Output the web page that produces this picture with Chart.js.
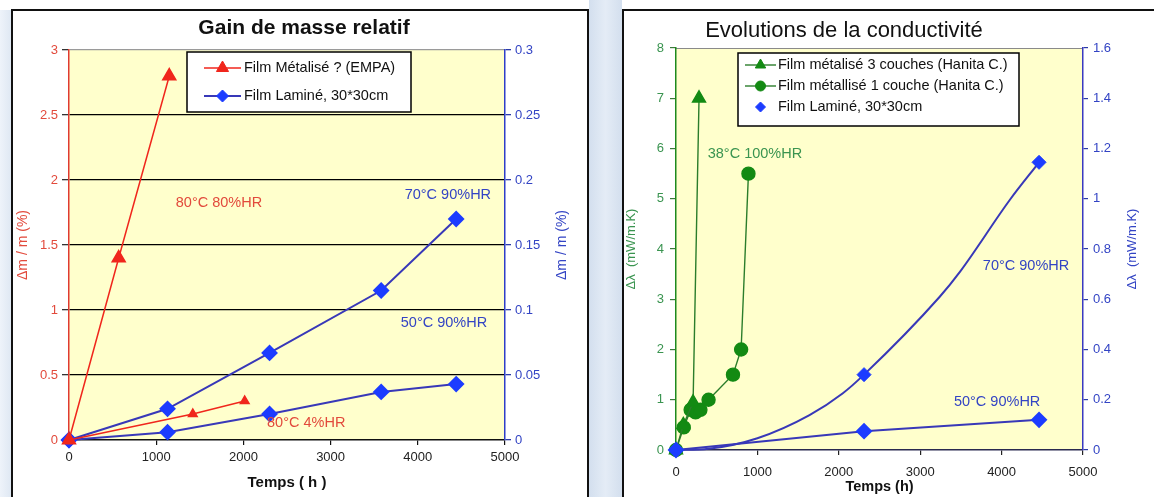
<!DOCTYPE html>
<html><head><meta charset="utf-8">
<script src="https://cdn.jsdelivr.net/npm/chart.js@4.4.0/dist/chart.umd.min.js"></script>
<style>
html,body{margin:0;padding:0;width:1154px;height:497px;overflow:hidden;background:#fff;}
#stripL{position:absolute;left:0;top:10px;width:11px;height:487px;background:linear-gradient(90deg,#eef3fa,#dfe8f3);}
#stripM{position:absolute;left:589px;top:0;width:33px;height:497px;background:linear-gradient(90deg,#d3dfee,#e4ecf6,#d3dfee);}
#frameL{position:absolute;left:11px;top:9px;width:574px;height:500px;border:2px solid #111;border-bottom:none;background:#fff;}
#frameR{position:absolute;left:622px;top:9px;width:560px;height:500px;border:2px solid #111;border-bottom:none;border-right:none;background:#fff;}
canvas{position:absolute;}
#cL{left:13px;top:11px;}
#cR{left:624px;top:11px;}
</style>
</head><body>
<div id="stripL"></div><div id="stripM"></div>
<div id="frameL"></div><div id="frameR"></div>
<canvas id="cL" width="574" height="486"></canvas>
<canvas id="cR" width="530" height="486"></canvas>
<script>
// ---------- shared ticks ----------
const xTicks = [0, 1000, 2000, 3000, 4000, 5000];
const massLeftTicks = [0, 0.5, 1, 1.5, 2, 2.5, 3];
const massRightTicks = [0, 0.05, 0.1, 0.15, 0.2, 0.25, 0.3];
const condLeftTicks = [0, 1, 2, 3, 4, 5, 6, 7, 8];
const condRightTicks = [0, 0.2, 0.4, 0.6, 0.8, 1, 1.2, 1.4, 1.6];

// ---------- Gain de masse relatif ----------
const massTitle = 'Gain de masse relatif';
const massXTitle = 'Temps ( h )';
const massYTitle = 'Δm / m (%)';
const massLegendLabels = ['Film Métalisé ? (EMPA)', 'Film Laminé, 30*30cm'];
const empa80Time = [0, 570, 1150];
const empa80Gain = [0, 1.4, 2.8];
const empa4Time = [0, 1420, 2015];
const empa4Gain = [0, 0.2, 0.3];
const lam70Time = [0, 1130, 2300, 3580, 4440];
const lam70Gain = [0, 0.024, 0.067, 0.115, 0.17];
const lam50Time = [0, 1130, 2300, 3580, 4440];
const lam50Gain = [0, 0.006, 0.02, 0.037, 0.043];
const massNoteText = ['80°C 80%HR', '70°C 90%HR', '50°C 90%HR', '80°C 4%HR'];
const massNoteTime = [1720, 4345, 4300, 2720];
const massNoteValue = [1.82, 1.885, 0.9, 0.131]; // in left-axis units

// ---------- Evolutions de la conductivité ----------
const condTitle = 'Evolutions de la conductivité';
const condXTitle = 'Temps (h)';
const condYLeftTitle = 'Δλ  (mW/m.K)';
const condYRightTitle = 'Δλ  (mW/m.K)';
const condLegendLabels = ['Film métalisé 3 couches (Hanita C.)', 'Film métallisé 1 couche (Hanita C.)', 'Film Laminé, 30*30cm'];
const hanita3Time = [0, 90, 210, 283];
const hanita3Cond = [0, 0.5, 0.95, 7.0];
const hanita1Time = [0, 95, 180, 240, 300, 400, 700, 800, 890];
const hanita1Cond = [0, 0.45, 0.8, 0.75, 0.8, 1.0, 1.5, 2.0, 5.5];
const lamC70Time = [0, 2310, 4460];
const lamC70Cond = [0, 0.3, 1.145];
const lamC70CurveTime = [0, 400, 1000, 1640, 2050, 2310, 3240, 3490, 4100, 4460];
const lamC70CurveCond = [0, 0.005, 0.047, 0.139, 0.226, 0.3, 0.61, 0.71, 0.995, 1.145];
const lamC50Time = [0, 2310, 4460];
const lamC50Cond = [0, 0.075, 0.12];
const condNoteText = ['38°C 100%HR', '70°C 90%HR', '50°C 90%HR'];
const condNoteTime = [970, 4300, 3945];
const condNoteValue = [5.89, 3.66, 0.955]; // in left-axis units

// ---------- styling ----------
const FONT = "'Liberation Sans', Arial, Helvetica, sans-serif";
const RED = '#f0261c', RED_TXT = '#e24a3c';
const BLUE = '#1c3cff', BLUE_LINE = '#3838b8', BLUE_TXT = '#3344c4';
const GREEN = '#138a13', GREEN_LINE = '#2b7d2b', GREEN_TXT = '#3a9450';

const pts = (xs, ys) => xs.map((x, i) => ({x: x, y: ys[i]}));

function marker(ctx, style, r, x, y) {
  ctx.beginPath();
  if (style === 'circle') {
    ctx.arc(x, y, r, 0, Math.PI * 2);
  } else if (style === 'triangle') {
    ctx.moveTo(x, y - r);
    ctx.lineTo(x + 0.866 * r, y + 0.5 * r);
    ctx.lineTo(x - 0.866 * r, y + 0.5 * r);
    ctx.closePath();
  } else {
    ctx.moveTo(x, y - r); ctx.lineTo(x + r, y); ctx.lineTo(x, y + r); ctx.lineTo(x - r, y); ctx.closePath();
  }
  ctx.fill(); ctx.stroke();
}

const bgPlugin = (color, topLine) => ({
  id: 'plotBg',
  beforeDraw(chart) {
    const {ctx, chartArea: a} = chart;
    ctx.save();
    ctx.fillStyle = color;
    ctx.fillRect(a.left, a.top, a.right - a.left, a.bottom - a.top);
    if (topLine) {
      ctx.strokeStyle = topLine; ctx.lineWidth = 1;
      ctx.beginPath(); ctx.moveTo(a.left, a.top + 0.5); ctx.lineTo(a.right, a.top + 0.5); ctx.stroke();
    }
    ctx.restore();
  }
});

function extrasPlugin(cfg) {
  return {
    id: 'extras',
    afterDatasetsDraw(chart) {
      const ctx = chart.ctx, a = chart.chartArea;
      const xs = chart.scales.x, yl = chart.scales.yL;
      ctx.save();
      // chart title
      ctx.textAlign = 'center'; ctx.textBaseline = 'middle';
      ctx.fillStyle = '#111';
      ctx.font = cfg.title.weight + ' ' + cfg.title.size + 'px ' + FONT;
      ctx.fillText(cfg.title.text, cfg.title.x, cfg.title.y);
      // annotations
      ctx.font = cfg.noteSize + 'px ' + FONT;
      cfg.notes.text.forEach((t, i) => {
        ctx.fillStyle = cfg.notes.colors[i];
        ctx.fillText(t, xs.getPixelForValue(cfg.notes.time[i]), yl.getPixelForValue(cfg.notes.value[i]));
      });
      // right axis title (reads bottom to top)
      ctx.save();
      ctx.translate(a.right + cfg.rTitle.dx, (a.top + a.bottom) / 2 + cfg.rTitle.dy);
      ctx.rotate(-Math.PI / 2);
      ctx.fillStyle = cfg.rTitle.color;
      ctx.font = cfg.rTitle.size + 'px ' + FONT;
      ctx.fillText(cfg.rTitle.text, 0, 0);
      ctx.restore();
      // legend
      const L = cfg.legend;
      ctx.fillStyle = '#fff'; ctx.fillRect(L.x, L.y, L.w, L.h);
      ctx.strokeStyle = '#000'; ctx.lineWidth = 1.5; ctx.strokeRect(L.x, L.y, L.w, L.h);
      ctx.font = L.size + 'px ' + FONT; ctx.textAlign = 'left'; ctx.textBaseline = 'middle';
      L.rows.forEach((r, i) => {
        const y = L.firstY + i * L.gap;
        if (r.line) {
          ctx.strokeStyle = r.lineColor; ctx.lineWidth = r.lineWidth;
          ctx.beginPath(); ctx.moveTo(L.sx1, y); ctx.lineTo(L.sx2, y); ctx.stroke();
        }
        ctx.fillStyle = r.color; ctx.strokeStyle = r.color; ctx.lineWidth = 1;
        marker(ctx, r.style, r.r, (L.sx1 + L.sx2) / 2, y);
        ctx.fillStyle = '#111';
        ctx.fillText(L.labels[i], L.tx, y);
      });
      ctx.restore();
    }
  };
}

const fixedTicks = arr => (s => { s.ticks = arr.map(v => ({value: v})); });

// ================= LEFT CHART =================
new Chart(document.getElementById('cL'), {
  type: 'scatter',
  data: {datasets: [
    {label: massLegendLabels[0], data: pts(empa80Time, empa80Gain), yAxisID: 'yL', showLine: true,
     borderColor: RED, borderWidth: 1.5, pointStyle: 'triangle', pointRadius: 7.5,
     pointBackgroundColor: RED, pointBorderColor: RED, clip: false},
    {label: '', data: pts(empa4Time, empa4Gain), yAxisID: 'yL', showLine: true,
     borderColor: RED, borderWidth: 1.5, pointStyle: 'triangle', pointRadius: 5,
     pointBackgroundColor: RED, pointBorderColor: RED, clip: false},
    {label: massLegendLabels[1], data: pts(lam70Time, lam70Gain), yAxisID: 'yR', showLine: true,
     borderColor: BLUE_LINE, borderWidth: 2, pointStyle: 'rectRot', pointRadius: 7,
     pointBackgroundColor: BLUE, pointBorderColor: BLUE, clip: false},
    {label: '', data: pts(lam50Time, lam50Gain), yAxisID: 'yR', showLine: true,
     borderColor: BLUE_LINE, borderWidth: 2, pointStyle: 'rectRot', pointRadius: 7,
     pointBackgroundColor: BLUE, pointBorderColor: BLUE, clip: false}
  ]},
  options: {
    responsive: false, animation: false, events: [],
    layout: {padding: {top: 39, left: 0, right: 0, bottom: 0}},
    plugins: {legend: {display: false}, tooltip: {enabled: false}, title: {display: false}},
    scales: {
      x: {type: 'linear', position: 'bottom', min: 0, max: 5000,
          afterFit: s => { s.height = 57; }, afterBuildTicks: fixedTicks(xTicks),
          ticks: {color: '#222', font: {family: FONT, size: 13}, padding: 5, autoSkip: false, maxRotation: 0, callback: v => String(v)},
          grid: {drawOnChartArea: false, tickLength: 5, tickColor: '#111', lineWidth: 1.2},
          border: {color: '#111', width: 1.5},
          title: {display: true, text: massXTitle, color: '#111', font: {family: FONT, size: 15, weight: 'bold'}, padding: {top: 0, bottom: 5}}},
      yL: {type: 'linear', position: 'left', min: 0, max: 3,
           afterFit: s => { s.width = 56; }, afterBuildTicks: fixedTicks(massLeftTicks),
           ticks: {color: RED_TXT, font: {family: FONT, size: 13}, padding: 4, callback: v => String(v)},
           grid: {drawOnChartArea: true, tickLength: 7, tickColor: '#333', lineWidth: 1.3,
                  color: c => (c.tick && c.tick.value === 0) ? 'rgba(0,0,0,0)' : (c.tick && c.tick.value === 3 ? '#9a9a9a' : '#000')},
           border: {color: '#e03a30', width: 1.5},
           title: {display: true, text: massYTitle, color: RED_TXT, font: {family: FONT, size: 14}, padding: {top: 2, bottom: 0}}},
      yR: {type: 'linear', position: 'right', min: 0, max: 0.3,
           afterFit: s => { s.width = 82; }, afterBuildTicks: fixedTicks(massRightTicks),
           ticks: {color: BLUE_TXT, font: {family: FONT, size: 13}, padding: 4, callback: v => String(v)},
           grid: {drawOnChartArea: false, tickLength: 6, tickColor: '#2a3aa8', lineWidth: 1.3},
           border: {color: '#2e3ec8', width: 1.5}}
    }
  },
  plugins: [bgPlugin('#ffffcc', null), extrasPlugin({
    title: {text: massTitle, x: 291, y: 17, size: 21, weight: 'bold'},
    noteSize: 14.5,
    notes: {text: massNoteText, time: massNoteTime, value: massNoteValue, colors: [RED_TXT, BLUE_TXT, BLUE_TXT, RED_TXT]},
    rTitle: {text: massYTitle, color: BLUE_TXT, size: 14, dx: 57, dy: 0},
    legend: {x: 174, y: 41, w: 224, h: 60, size: 14.5, firstY: 57, gap: 28, sx1: 191, sx2: 228, tx: 231,
      labels: massLegendLabels,
      rows: [{line: true, lineColor: RED, lineWidth: 1.5, color: RED, style: 'triangle', r: 7},
             {line: true, lineColor: BLUE_LINE, lineWidth: 2, color: BLUE, style: 'rectRot', r: 6}]}
  })]
});

// ================= RIGHT CHART =================
new Chart(document.getElementById('cR'), {
  type: 'scatter',
  data: {datasets: [
    {label: condLegendLabels[2], data: pts(lamC70Time, lamC70Cond), yAxisID: 'yR', showLine: false,
     pointStyle: 'rectRot', pointRadius: 7, pointBackgroundColor: BLUE, pointBorderColor: BLUE, clip: false},
    {label: '', data: pts(lamC50Time, lamC50Cond), yAxisID: 'yR', showLine: true,
     borderColor: BLUE_LINE, borderWidth: 2, pointStyle: 'rectRot', pointRadius: 7,
     pointBackgroundColor: BLUE, pointBorderColor: BLUE, clip: false},
    {label: '', data: pts(lamC70CurveTime, lamC70CurveCond), yAxisID: 'yR', showLine: true,
     borderColor: BLUE_LINE, borderWidth: 2, pointRadius: 0, cubicInterpolationMode: 'monotone', clip: false},
    {label: condLegendLabels[0], data: pts(hanita3Time, hanita3Cond), yAxisID: 'yL', showLine: true,
     borderColor: GREEN_LINE, borderWidth: 1.4, pointStyle: 'triangle', pointRadius: 7.5,
     pointBackgroundColor: GREEN, pointBorderColor: GREEN, clip: false},
    {label: condLegendLabels[1], data: pts(hanita1Time, hanita1Cond), yAxisID: 'yL', showLine: true,
     borderColor: GREEN_LINE, borderWidth: 1.4, pointStyle: 'circle', pointRadius: 6.5,
     pointBackgroundColor: GREEN, pointBorderColor: GREEN, clip: false}
  ]},
  options: {
    responsive: false, animation: false, events: [],
    layout: {padding: {top: 37, left: 0, right: 0, bottom: 0}},
    plugins: {legend: {display: false}, tooltip: {enabled: false}, title: {display: false}},
    scales: {
      x: {type: 'linear', position: 'bottom', min: 0, max: 5000,
          afterFit: s => { s.height = 47; }, afterBuildTicks: fixedTicks(xTicks),
          ticks: {color: '#222', font: {family: FONT, size: 13}, padding: 10, autoSkip: false, maxRotation: 0, callback: v => String(v)},
          grid: {drawOnChartArea: false, tickLength: 5, tickColor: '#222', lineWidth: 1.2},
          border: {color: '#2a2a50', width: 1.5},
          title: {display: true, text: condXTitle, color: '#111', font: {family: FONT, size: 14.5, weight: 'bold'}, padding: {top: 0, bottom: 1}}},
      yL: {type: 'linear', position: 'left', min: 0, max: 8,
           afterFit: s => { s.width = 52; }, afterBuildTicks: fixedTicks(condLeftTicks),
           ticks: {color: GREEN_TXT, font: {family: FONT, size: 13}, padding: 6, callback: v => String(v)},
           grid: {drawOnChartArea: false, tickLength: 6, tickColor: '#3a7a3a', lineWidth: 1.2},
           border: {color: '#1e8a1e', width: 1.5},
           title: {display: true, text: condYLeftTitle, color: GREEN_TXT, font: {family: FONT, size: 13}, padding: {top: 0, bottom: 0}}},
      yR: {type: 'linear', position: 'right', min: 0, max: 1.6,
           afterFit: s => { s.width = 71; }, afterBuildTicks: fixedTicks(condRightTicks),
           ticks: {color: BLUE_TXT, font: {family: FONT, size: 13}, padding: 5, callback: v => String(v)},
           grid: {drawOnChartArea: false, tickLength: 5, tickColor: '#2a3aa8', lineWidth: 1.2},
           border: {color: '#3a3ac0', width: 1.5}}
    }
  },
  plugins: [bgPlugin('#ffffcc', '#8a8a8a'), extrasPlugin({
    title: {text: condTitle, x: 220, y: 20, size: 22, weight: 'normal'},
    noteSize: 14.5,
    notes: {text: condNoteText, time: condNoteTime, value: condNoteValue, colors: [GREEN_TXT, BLUE_TXT, BLUE_TXT]},
    rTitle: {text: condYRightTitle, color: BLUE_TXT, size: 13, dx: 49, dy: 0},
    legend: {x: 114, y: 42, w: 281, h: 73, size: 14.5, firstY: 54, gap: 21, sx1: 121, sx2: 152, tx: 154,
      labels: condLegendLabels,
      rows: [{line: true, lineColor: GREEN_LINE, lineWidth: 1.4, color: GREEN, style: 'triangle', r: 6},
             {line: true, lineColor: GREEN_LINE, lineWidth: 1.4, color: GREEN, style: 'circle', r: 5},
             {line: false, color: BLUE, style: 'rectRot', r: 5}]}
  })]
});
</script>
</body></html>
